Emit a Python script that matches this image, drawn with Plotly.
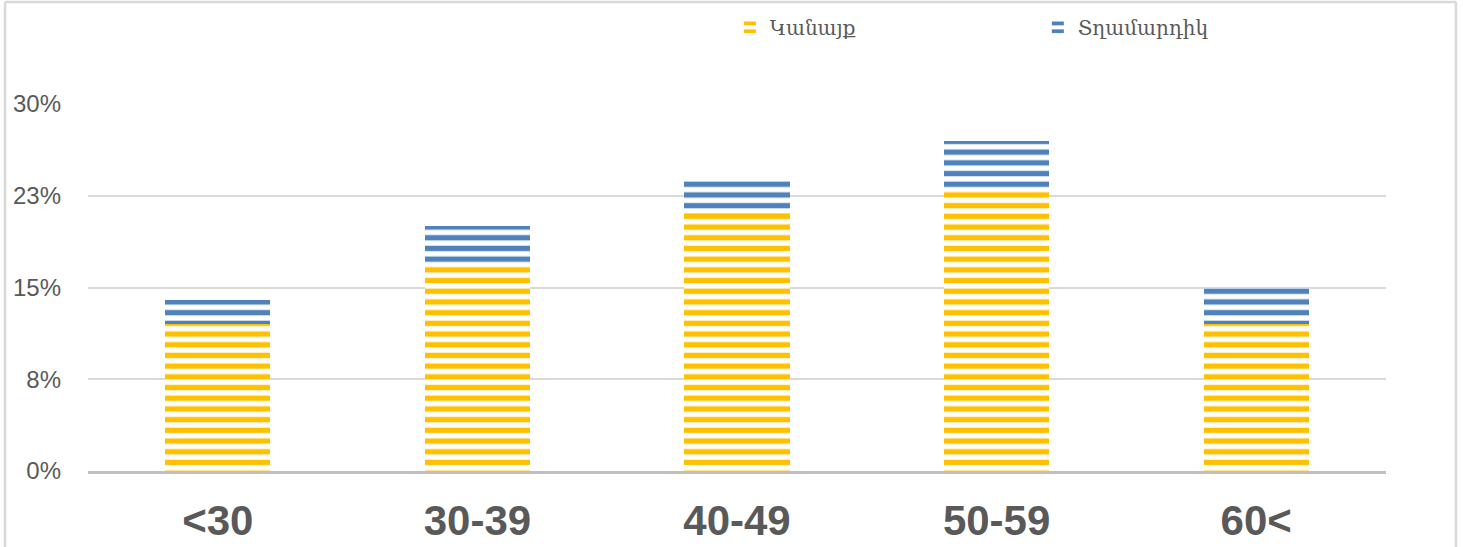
import plotly.graph_objects as go

# Age groups and shares of each group (fractions of the total)
age_groups = ["<30", "30-39", "40-49", "50-59", "60<"]
women = [0.12, 0.17, 0.21, 0.23, 0.12]
men = [0.02, 0.03, 0.03, 0.04, 0.03]

y_tick_values = [0, 0.075, 0.15, 0.225, 0.30]
y_tick_labels = ["0%", "8%", "15%", "23%", "30%"]

YELLOW = "#FFC000"
BLUE = "#4F81BD"
TEXT = "#595959"

def striped(color):
    return dict(shape="-", fgcolor=color, fgopacity=1, bgcolor="white",
                size=10.7, solidity=0.5, fillmode="replace")

fig = go.Figure()
fig.add_trace(go.Bar(
    x=age_groups, y=women, name="Կանայք", width=0.405,
    marker=dict(color="white", line=dict(width=0), pattern=striped(YELLOW)),
))
fig.add_trace(go.Bar(
    x=age_groups, y=men, name="Տղամարդիկ", width=0.405,
    marker=dict(color="white", line=dict(width=0), pattern=striped(BLUE)),
))

# Light frame around the chart area (open at the bottom)
frame = dict(type="line", xref="paper", yref="paper",
             line=dict(color="#D9D9D9", width=2.5), layer="below")
left, right, top, bottom = -0.0639, 1.0539, 1.2779, -0.3
fig.add_shape(x0=left, x1=left, y0=bottom, y1=top, **frame)
fig.add_shape(x0=left, x1=right, y0=top, y1=top, **frame)
fig.add_shape(x0=right, x1=right, y0=top, y1=bottom, **frame)

fig.update_layout(
    width=1463, height=547,
    margin=dict(l=88, r=77, t=104, b=76, autoexpand=False),
    paper_bgcolor="white", plot_bgcolor="white",
    barmode="stack",
    showlegend=True,
    legend=dict(
        orientation="h", x=0.4945, xanchor="left", y=1.262, yanchor="top",
        font=dict(family="DejaVu Serif", size=20, color=TEXT),
        entrywidth=263, entrywidthmode="pixels",
        bgcolor="rgba(0,0,0,0)", traceorder="normal",
    ),
    xaxis=dict(
        showgrid=False, showline=True, linecolor="#BFBFBF", linewidth=3,
        ticks="", ticklabelstandoff=11,
        tickfont=dict(family="Liberation Sans", size=42, color=TEXT, weight="bold"),
    ),
    yaxis=dict(
        range=[0, 0.30], tickvals=y_tick_values, ticktext=y_tick_labels,
        showgrid=True, gridcolor="#D9D9D9", gridwidth=2,
        zeroline=False, showline=False, ticks="", ticklabelstandoff=26,
        tickfont=dict(family="Liberation Sans", size=24, color=TEXT),
    ),
)

fig.write_html("out.html")
